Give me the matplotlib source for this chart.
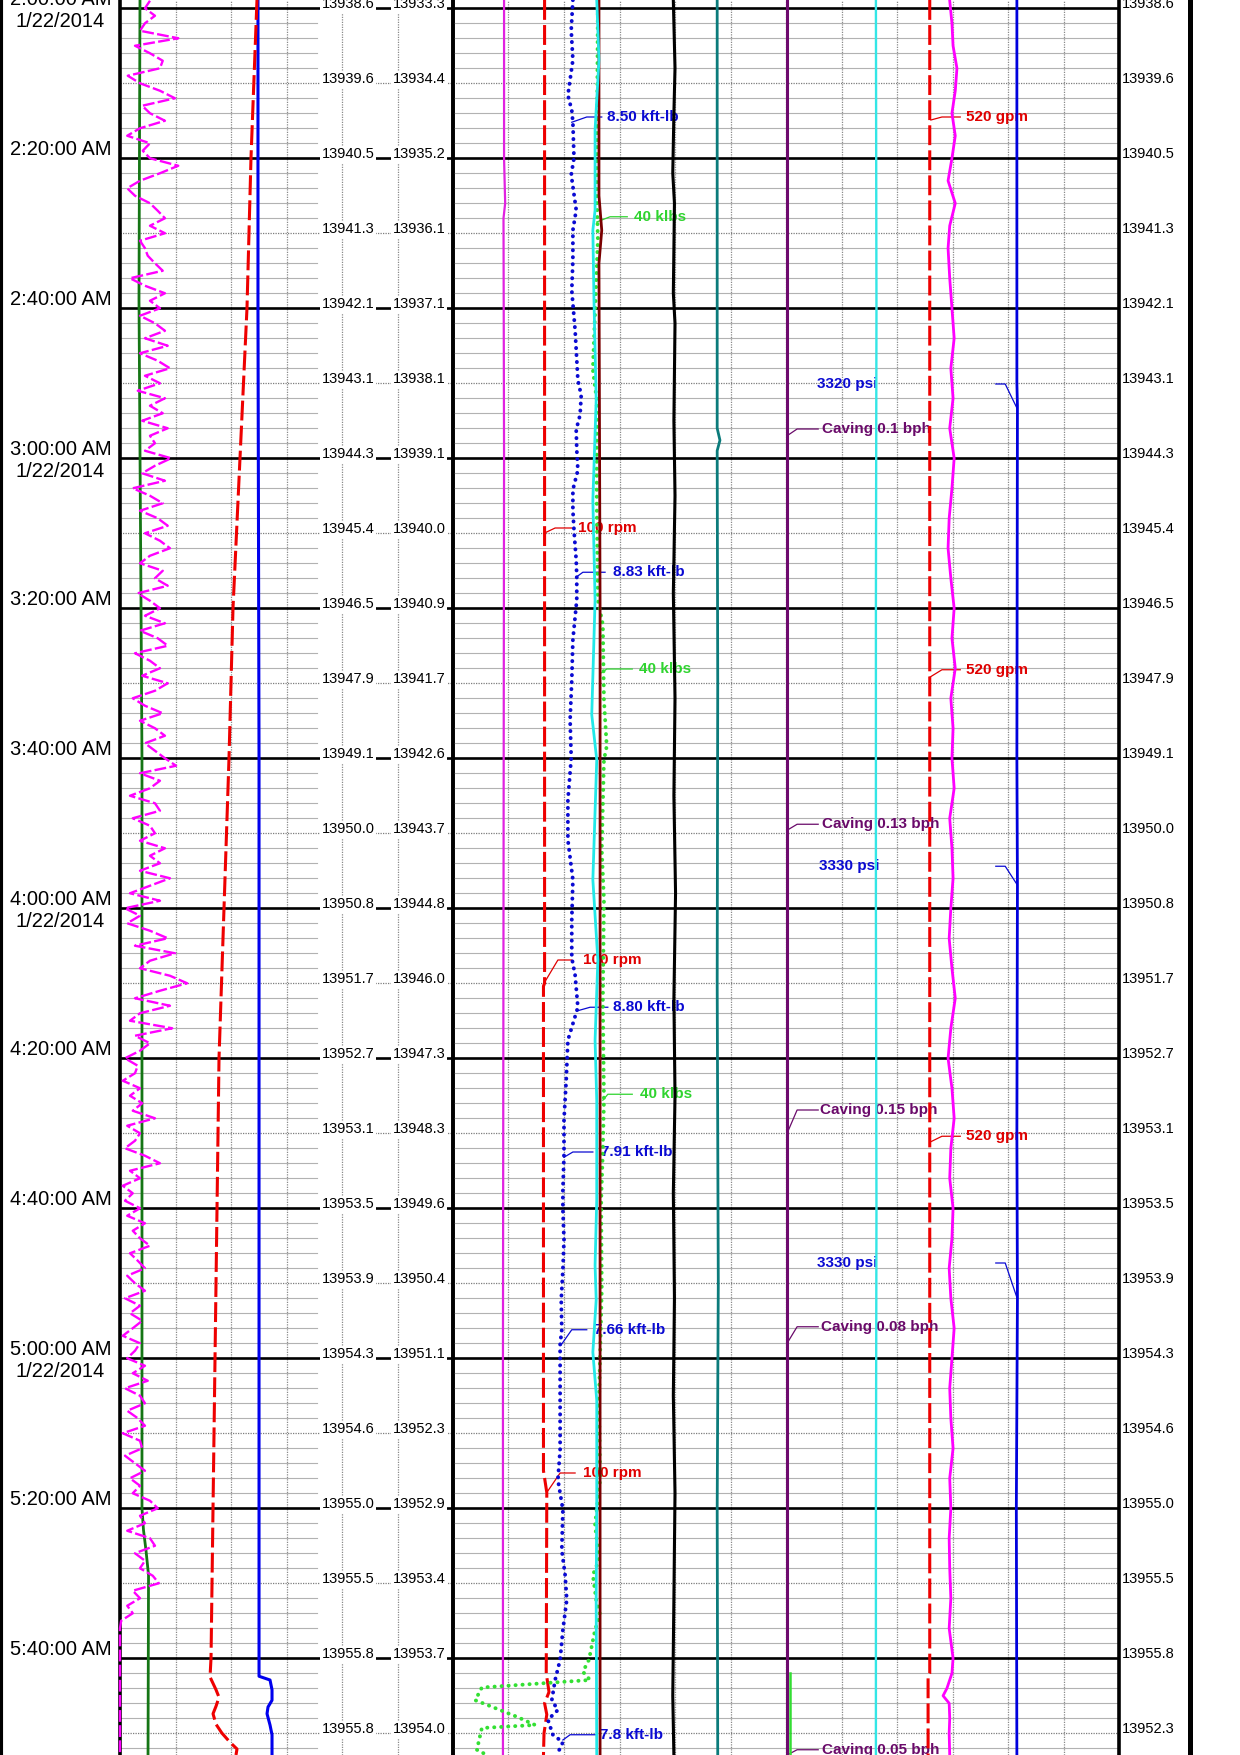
import numpy as np
import matplotlib
matplotlib.use("Agg")
import matplotlib.pyplot as plt
from matplotlib.transforms import blended_transform_factory

plt.rcParams['font.family'] = ['Liberation Sans', 'DejaVu Sans']

# ---------------------------------------------------------------- data
# time = minutes after 2:00:00 AM, 1/22/2014
T_TOP, T_BOTTOM = -1.1, 232.9

major_minutes = [0, 20, 40, 60, 80, 100, 120, 140, 160, 180, 200, 220]
time_labels = ['2:00:00 AM', '2:20:00 AM', '2:40:00 AM', '3:00:00 AM', '3:20:00 AM',
               '3:40:00 AM', '4:00:00 AM', '4:20:00 AM', '4:40:00 AM', '5:00:00 AM',
               '5:20:00 AM', '5:40:00 AM']
date_minutes = [0, 60, 120, 180]
date_label = '1/22/2014'

depth_minutes = [0, 10, 20, 30, 40, 50, 60, 70, 80, 90, 100, 110, 120, 130, 140, 150,
                 160, 170, 180, 190, 200, 210, 220, 230]
depth_a = ['13938.6', '13939.6', '13940.5', '13941.3', '13942.1', '13943.1', '13944.3',
           '13945.4', '13946.5', '13947.9', '13949.1', '13950.0', '13950.8', '13951.7',
           '13952.7', '13953.1', '13953.5', '13953.9', '13954.3', '13954.6', '13955.0',
           '13955.5', '13955.8', '13955.8']
depth_b = ['13933.3', '13934.4', '13935.2', '13936.1', '13937.1', '13938.1', '13939.1',
           '13940.0', '13940.9', '13941.7', '13942.6', '13943.7', '13944.8', '13946.0',
           '13947.3', '13948.3', '13949.6', '13950.4', '13951.1', '13952.3', '13952.9',
           '13953.4', '13953.7', '13954.0']
depth_right = ['13938.6', '13939.6', '13940.5', '13941.3', '13942.1', '13943.1', '13944.3',
               '13945.4', '13946.5', '13947.9', '13949.1', '13950.0', '13950.8', '13951.7',
               '13952.7', '13953.1', '13953.5', '13953.9', '13954.3', '13954.6', '13955.0',
               '13955.5', '13955.8', '13952.3']

# ---- track 1 (scale 0-60)
rop_time = list(range(-1, 234))
rop = [5.4, 4.5, 6.3, 4.5, 3.6, 10.5, 2.7, 5.4, 7.7, 7.2,
       1.4, 3.6, 7.2, 9.9, 4.0, 5.4, 8.1, 3.6, 1.3, 5.4,
       4.1, 5.4, 10.5, 7.2, 3.6, 1.3, 2.7, 5.4, 6.8, 8.1,
       5.4, 8.1, 3.6, 4.5, 5.0, 6.3, 7.7, 1.8, 4.5, 8.1,
       5.4, 7.2, 3.6, 6.3, 8.1, 4.5, 8.6, 3.6, 6.8, 9.0,
       4.5, 7.2, 3.2, 8.1, 5.4, 7.7, 4.0, 8.6, 5.4, 6.3,
       4.5, 9.2, 6.3, 4.0, 8.1, 2.3, 5.4, 7.7, 3.6, 6.8,
       8.6, 4.5, 7.2, 9.0, 5.4, 3.6, 7.7, 6.3, 8.6, 3.2,
       5.4, 7.2, 4.5, 8.1, 3.6, 6.8, 8.6, 2.7, 5.4, 7.2,
       4.0, 8.6, 6.3, 2.3, 4.5, 7.7, 3.6, 6.3, 8.1, 4.5,
       6.3, 8.1, 10.1, 3.6, 7.2, 5.4, 1.8, 6.3, 7.2, 2.3,
       5.4, 6.3, 3.6, 8.1, 5.4, 7.2, 3.6, 9.0, 5.4, 1.8,
       7.2, 0.9, 3.6, 1.3, 5.4, 8.6, 2.7, 9.9, 5.4, 3.6,
       9.0, 12.1, 7.2, 2.7, 9.0, 3.6, 1.8, 9.4, 2.7, 5.4,
       3.6, 0.9, 3.2, 2.7, 0.5, 3.6, 1.8, 4.0, 2.3, 6.3,
       1.3, 3.6, 2.7, 0.9, 4.5, 7.2, 1.8, 3.6, 0.5, 2.3,
       0.9, 3.6, 1.3, 4.5, 2.3, 3.6, 5.4, 1.8, 3.2, 4.5,
       1.3, 2.7, 4.5, 0.9, 3.6, 1.8, 4.0, 2.3, 0.5, 3.6,
       2.7, 1.3, 4.5, 2.3, 5.0, 0.9, 3.6, 4.5, 1.3, 3.2,
       4.5, 0.5, 3.6, 4.0, 0.9, 2.7, 4.5, 1.8, 3.6, 2.3,
       5.4, 6.8, 3.6, 4.5, 1.3, 5.4, 6.3, 2.7, 4.5, 3.6,
       5.9, 7.0, 2.3, 3.6, 1.3, 2.3, 0.2, 0.0, 0.0, 0.0,
       0, 0, 0, 0, 0, 0, 0, 0, 0, 0, 0, 0, 0, 0, 0]

gas_time = [-1.1, 38.9, 78.9, 100.2, 200.0, 202.9, 205.6, 208.9, 232.9]
gas = [3.60, 3.42, 3.78, 3.96, 3.96, 4.23, 4.68, 5.14, 5.05]

t1red_time = [-1.1, 20, 40, 60, 80, 100, 120, 140, 160, 180, 200, 220, 222.5, 224.2,
              225.2, 226.4, 227.4, 228.8, 230.0, 231.2, 232.1, 232.9]
t1red = [24.68, 23.60, 22.88, 21.62, 20.36, 19.64, 18.74, 17.84, 17.48, 17.12, 16.76,
         16.40, 16.22, 17.30, 17.84, 17.30, 16.76, 17.30, 18.38, 19.82, 21.08, 20.90]

t1blue_time = [-1.1, 40, 100, 160, 222.4, 222.9, 224.2, 225.6, 226.5, 227.4, 228.9, 230.2, 232.9]
t1blue = [24.86, 24.86, 25.05, 25.05, 25.05, 27.03, 27.39, 27.39, 26.67, 26.49, 27.03, 27.39, 27.39]

# ---- track 2 (scale 0-120)
mag1_time = [-1.1, 20, 26, 28, 60, 120, 180, 232.9]
mag1 = [9.2, 9.2, 9.4, 9.1, 9.2, 9.1, 9.0, 9.0]

rpm_time = [-1.1, 130.0, 130.4, 195.0, 197.9, 222.0, 224.5, 226.0, 227.5, 230.0, 232.9]
rpm = [16.5, 16.5, 16.3, 16.3, 16.9, 16.8, 17.3, 16.5, 16.9, 16.4, 16.3]

torque_time = [-1.1, 2.9, 6.9, 11.6, 13.6, 15.2, 20.0, 22.2, 26.9, 29.6,
               33.6, 37.6, 42.9, 46.9, 49.6, 51.6, 54.2, 56.2, 58.9, 61.6,
               64.2, 66.9, 69.6, 73.6, 75.8, 78.9, 84.2, 89.6, 94.9, 100.0,
               105.6, 110.9, 116.2, 121.6, 126.6, 128.9, 133.2, 137.6, 142.9, 148.2,
               152.9, 157.6, 160.2, 164.2, 168.2, 172.2, 176.2, 178.2, 182.9, 188.2,
               192.2, 196.2, 200.2, 205.6, 208.9, 212.2, 216.2, 220.2, 222.9, 225.6,
               226.9, 228.2, 230.2, 231.2, 232.9]
torque = [21.6, 21.3, 21.6, 20.7, 21.4, 21.6, 21.8, 21.3, 22.2, 21.6,
          21.6, 21.4, 22.0, 22.3, 22.5, 23.1, 22.9, 22.2, 22.3, 22.5,
          21.6, 21.6, 21.8, 22.2, 22.3, 22.3, 21.6, 21.4, 21.1, 21.3,
          20.7, 20.7, 21.6, 21.4, 21.4, 22.0, 22.5, 20.7, 20.4, 20.0,
          20.0, 19.8, 19.8, 20.0, 19.8, 19.5, 19.6, 19.3, 19.3, 19.3,
          19.3, 18.9, 19.8, 19.6, 20.2, 20.5, 19.8, 19.3, 18.4, 17.8,
          18.9, 17.1, 18.0, 19.8, 18.7]

cyan_time = [-1.1, 6.9, 16.2, 26.9, 29.6, 38.9, 52.2, 65.6, 78.9, 94.2,
             100.2, 116.2, 126.9, 137.6, 145.6, 158.9, 167.6, 172.2, 179.2, 185.6,
             198.9, 212.2, 232.9]
cyan = [25.9, 26.3, 25.6, 25.6, 25.2, 25.4, 25.8, 25.2, 25.6, 25.0,
        25.9, 25.2, 26.1, 25.6, 25.9, 25.9, 25.6, 25.8, 25.2, 25.9,
        25.9, 25.8, 25.9]

maroon_time = [-1.1, 25, 29.6, 34, 80, 150, 200, 232.9]
maroon = [26.3, 26.3, 26.8, 26.3, 26.5, 26.5, 26.5, 26.5]

wob_time = [-1.1, 24.3, 30.9, 48.2, 52.2, 65.6, 78.9, 82.2, 92.2, 98.4,
            100.2, 112.2, 118.9, 132.2, 145.6, 152.2, 158.9, 170.9, 185.6, 196.2,
            202.2, 206.9, 208.9, 212.2, 214.2, 216.2, 220.2, 221.8, 222.9, 223.9,
            225.6, 226.2, 227.8, 228.9, 229.3, 232.2, 232.9]
wob = [26.1, 25.9, 26.1, 25.2, 25.9, 25.9, 26.1, 27.0, 27.2, 27.7,
       27.2, 26.8, 27.2, 27.0, 27.2, 27.0, 26.7, 26.8, 26.3, 26.5,
       25.6, 26.3, 25.2, 25.8, 26.5, 25.6, 24.5, 23.4, 24.7, 5.2,
       4.0, 6.1, 11.5, 14.8, 5.2, 4.3, 6.1]

black_time = [-1, 8, 14, 22, 26, 38, 42, 55, 65, 78, 92, 105, 118, 132, 145, 158, 172,
              185, 198, 212, 225, 233]
black = [39.7, 40.0, 39.8, 39.6, 39.9, 39.7, 40.0, 39.8, 40.0, 39.7, 40.0, 39.8, 40.1,
         39.8, 40.0, 39.7, 39.9, 39.7, 40.0, 39.8, 39.6, 39.8]

teal_time = [-1, 30, 56, 57.6, 59, 90, 130, 170, 200, 233]
teal = [47.6, 47.6, 47.6, 48.1, 47.6, 47.7, 47.6, 47.8, 47.6, 47.7]

purple_time = [-1.1, 232.9]
purple = [60.2, 60.2]

caving_time = [222.0, 232.9]
caving = [60.75, 60.75]

cyan2_time = [-1, 40, 80, 120, 160, 200, 233]
cyan2 = [76.2, 76.3, 76.2, 76.2, 76.3, 76.2, 76.2]

flow_time = [-1.1, 222.0, 222.5, 232.9]
flow = [85.9, 85.9, 85.6, 85.6]

mag2_time = [-1, 2, 5, 8, 11, 14, 17, 20, 23, 26, 29, 32, 36, 40, 44, 48, 52, 56, 60, 64,
             68, 72, 76, 80, 84, 88, 92, 96, 100, 104, 108, 112, 116, 120, 124, 128, 132,
             136, 140, 144, 148, 152, 156, 160, 164, 168, 172, 176, 180, 184, 188, 192,
             196, 200, 204, 208, 212, 216, 220, 222, 224, 225, 226, 228, 230, 233]
mag2 = [89.5, 89.9, 90.1, 90.8, 90.5, 89.9, 90.5, 89.9, 89.2, 90.5,
        89.5, 89.2, 89.5, 89.9, 90.3, 89.7, 90.1, 89.5, 90.3, 89.9,
        89.4, 89.2, 89.7, 90.3, 89.9, 90.5, 89.7, 90.1, 89.9, 90.3,
        89.5, 89.9, 90.1, 89.7, 89.4, 89.9, 90.5, 89.7, 89.2, 89.9,
        90.3, 89.7, 89.5, 90.1, 89.9, 89.4, 89.7, 90.3, 89.9, 89.5,
        89.7, 90.1, 89.5, 89.7, 89.4, 89.5, 89.7, 89.4, 90.1, 89.9,
        89.0, 88.3, 89.4, 89.5, 89.4, 89.5]

press_time = [-1, 50, 53, 100, 117, 150, 172, 200, 233]
press = [101.6, 101.6, 101.7, 101.6, 101.7, 101.6, 101.7, 101.5, 101.6]

# annotations: text, colour key, anchor (value, time), elbow value, text time, line end value, text value
annotations = [
    ('8.50 kft-lb', 'blue', 21.4, 15.2, 24.1, 14.5, 26.8, 27.7),
    ('520 gpm', 'red', 86.1, 14.9, 88.1, 14.5, 91.4, 92.4),
    ('40 klbs', 'green', 25.9, 28.5, 28.3, 27.8, 31.4, 32.6),
    ('3320 psi', 'blue', 101.6, 53.3, 99.5, 50.1, 97.8, 65.6),
    ('Caving 0.1 bph', 'purple', 60.2, 57.0, 62.0, 56.1, 65.8, 66.5),
    ('100 rpm', 'red', 16.4, 70.0, 18.4, 69.3, 21.4, 22.6),
    ('8.83 kft-lb', 'blue', 22.3, 75.8, 23.4, 75.2, 27.4, 28.8),
    ('40 klbs', 'green', 26.8, 88.6, 27.7, 88.1, 32.3, 33.5),
    ('520 gpm', 'red', 85.9, 89.2, 88.1, 88.2, 91.4, 92.4),
    ('Caving 0.13 bph', 'purple', 60.2, 109.6, 62.0, 108.8, 65.8, 66.5),
    ('3330 psi', 'blue', 101.6, 116.8, 99.5, 114.4, 97.8, 65.9),
    ('100 rpm', 'red', 16.4, 130.0, 18.9, 126.9, 21.4, 23.4),
    ('8.80 kft-lb', 'blue', 22.3, 133.7, 24.7, 133.2, 27.9, 28.8),
    ('40 klbs', 'green', 27.0, 145.6, 27.9, 144.8, 32.3, 33.7),
    ('Caving 0.15 bph', 'purple', 60.2, 150.0, 62.0, 146.9, 65.8, 66.1),
    ('520 gpm', 'red', 85.9, 151.2, 88.1, 150.4, 91.4, 92.4),
    ('7.91 kft-lb', 'blue', 20.0, 153.2, 21.6, 152.5, 25.2, 26.7),
    ('3330 psi', 'blue', 101.6, 171.9, 99.5, 167.3, 97.8, 65.6),
    ('7.66 kft-lb', 'blue', 19.5, 178.2, 21.4, 176.2, 24.1, 25.4),
    ('Caving 0.08 bph', 'purple', 60.2, 178.0, 62.0, 175.8, 65.8, 66.3),
    ('100 rpm', 'red', 16.9, 197.9, 19.3, 195.3, 22.0, 23.4),
    ('7.8 kft-lb', 'blue', 19.8, 230.9, 21.1, 230.2, 25.9, 26.5),
    ('Caving 0.05 bph', 'purple', 60.2, 232.9, 62.0, 232.2, 65.8, 66.5),
]

# ---------------------------------------------------------------- style
C = {'blue': '#0a0ad2', 'red': '#e00000', 'green': '#2fd42f', 'purple': '#6a0a6a'}
MAGENTA = '#ff00ff'
W, H = 1240.0, 1755.0


def rect(x0, x1):
    return [x0 / W, 0.0, (x1 - x0) / W, 1.0]


fig = plt.figure(figsize=(12.4, 17.55), dpi=100)
fig.patch.set_facecolor('white')

ax_t = fig.add_axes(rect(0, 120))
ax1 = fig.add_axes(rect(120, 453))
ax2 = fig.add_axes(rect(453, 1119))
ax_r = fig.add_axes(rect(1119, 1190))

for ax in (ax_t, ax1, ax2, ax_r):
    ax.set_ylim(T_BOTTOM, T_TOP)
    ax.set_xticks([])
    ax.set_yticks([])
    ax.spines['top'].set_visible(False)
    ax.spines['bottom'].set_visible(False)
    ax.patch.set_alpha(0)
ax_t.set_xlim(0, 1)
ax_r.set_xlim(0, 1)
ax1.set_xlim(0, 60)
ax2.set_xlim(0, 120)

ax_t.spines['right'].set_visible(False)
ax_t.spines['left'].set_linewidth(4.4)
ax_r.spines['left'].set_visible(False)
ax_r.spines['right'].set_linewidth(3.6)
for ax in (ax1, ax2):
    for s in ('left', 'right'):
        ax.spines[s].set_linewidth(2.6)
        ax.spines[s].set_zorder(2.5)

# grid
MINOR_C = '#b2b2b2'
DOT_C = '#7d7d7d'
for ax, ncols, minor_max in ((ax1, 6, 0.592), (ax2, 12, 1.0)):
    xmax = ax.get_xlim()[1]
    for i in range(1, ncols):
        ax.axvline(xmax * i / ncols, color='#8a8a8a', lw=0.9, ls=(0, (1, 1)), zorder=1)
    for m in range(0, 234, 2):
        if m % 20 == 0:
            ax.axhline(m, color='black', lw=1.9, zorder=1.6)
        elif m % 10 == 0:
            ax.axhline(m, color=DOT_C, lw=0.9, ls=(0, (1, 1)), zorder=1.2)
        else:
            ax.axhline(m, xmin=0, xmax=minor_max, color=MINOR_C, lw=0.8, zorder=1.1)

# time labels
bt = blended_transform_factory(ax_t.transAxes, ax_t.transData)
for m, lab in zip(major_minutes, time_labels):
    ax_t.annotate(lab, xy=(0.51, m), xycoords=bt, xytext=(0, 2.4), textcoords='offset points',
                  ha='center', va='baseline', fontsize=14.5, color='black')
for m in date_minutes:
    ax_t.annotate(date_label, xy=(0.505, m), xycoords=bt, xytext=(0, -3.0),
                  textcoords='offset points', ha='center', va='top', fontsize=14.5,
                  color='black')

# depth labels
box = dict(facecolor='white', edgecolor='none', pad=1.2)
for m, a, b in zip(depth_minutes, depth_a, depth_b):
    ax1.text(45.9, m, a, ha='right', va='baseline', fontsize=10.5, bbox=box, zorder=2)
    ax1.text(58.7, m, b, ha='right', va='baseline', fontsize=10.5, bbox=box, zorder=2)
br = blended_transform_factory(ax_r.transAxes, ax_r.transData)
for m, r in zip(depth_minutes, depth_right):
    ax_r.text(0.045, m, r, transform=br, ha='left', va='baseline', fontsize=10.5)

# ---------------------------------------------------------------- curves
def dashed(lw, on, off):
    return dict(lw=lw, ls=(0, (on, off)), dash_capstyle='butt')


def dotted(lw):
    return dict(lw=lw, ls=(0, (0.05, 1.75)), dash_capstyle='round')


# track 1
ax1.plot(gas, gas_time, color='#157515', lw=2.0, zorder=3)
ax1.plot(t1blue, t1blue_time, color='#0000ee', lw=2.2, zorder=3)
ax1.plot(t1red, t1red_time, color='#ee0000', zorder=3.2, **dashed(2.2, 6.5, 1.7))
ax1.plot(rop, rop_time, color=MAGENTA, zorder=3.5, clip_on=False, **dashed(1.7, 5, 1.4))

# track 2
ax2.plot(mag1, mag1_time, color='#e020e0', lw=1.6, zorder=3)
ax2.plot(rpm, rpm_time, color='#ee0000', zorder=3, **dashed(2.2, 6.5, 1.7))
ax2.plot(wob, wob_time, color='#33e033', zorder=3, **dotted(2.8))
ax2.plot(maroon, maroon_time, color='#7a0000', lw=2.0, zorder=3.1)
ax2.plot(cyan, cyan_time, color='#22e8e8', lw=2.0, zorder=3.2)
ax2.plot(torque, torque_time, color='#0a0ad2', zorder=3.3, **dotted(2.8))
ax2.plot(black, black_time, color='black', lw=2.2, zorder=3)
ax2.plot(teal, teal_time, color='#0b7b7b', lw=2.0, zorder=3)
ax2.plot(purple, purple_time, color='#6e0a6e', lw=2.2, zorder=3)
ax2.plot(caving, caving_time, color='#33dd33', lw=1.8, zorder=3)
ax2.plot(cyan2, cyan2_time, color='#33e6e6', lw=1.7, zorder=3)
ax2.plot(flow, flow_time, color='#ee0000', zorder=3, **dashed(2.2, 6.5, 1.7))
ax2.plot(mag2, mag2_time, color=MAGENTA, lw=2.0, zorder=3)
ax2.plot(press, press_time, color='#0000dd', lw=2.0, zorder=3)

# annotations
for txt, ck, av, at, ev, tt, hv, tv in annotations:
    col = C[ck]
    ax2.plot([av, ev, hv], [at, tt, tt], color=col, lw=0.9, zorder=2.9)
    ax2.text(tv, tt, txt, color=col, fontsize=11, fontweight='bold',
             ha='left', va='center', zorder=2.8)

fig.savefig('out.png', dpi=100, facecolor='white')
